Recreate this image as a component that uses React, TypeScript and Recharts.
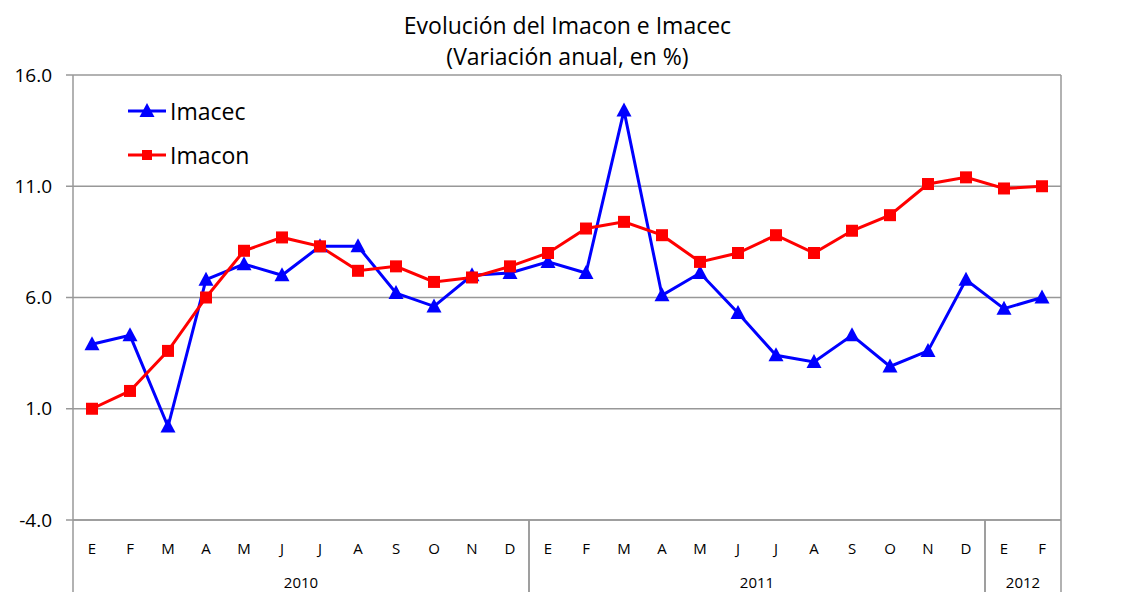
import { LineChart, Line, XAxis, YAxis, CartesianGrid } from 'recharts';

const months = ['E', 'F', 'M', 'A', 'M', 'J', 'J', 'A', 'S', 'O', 'N', 'D', 'E', 'F', 'M', 'A', 'M', 'J', 'J', 'A', 'S', 'O', 'N', 'D', 'E', 'F'];
const years = [
  '2010', '2010', '2010', '2010', '2010', '2010', '2010', '2010', '2010', '2010', '2010', '2010',
  '2011', '2011', '2011', '2011', '2011', '2011', '2011', '2011', '2011', '2011', '2011', '2011',
  '2012', '2012',
];
const imacec = [3.9, 4.3, 0.2, 6.8, 7.5, 7.0, 8.3, 8.3, 6.2, 5.6, 7.0, 7.1, 7.6, 7.1, 14.4, 6.1, 7.1, 5.3, 3.4, 3.1, 4.3, 2.9, 3.6, 6.8, 5.5, 6.0];
const imacon = [1.0, 1.8, 3.6, 6.0, 8.1, 8.7, 8.3, 7.2, 7.4, 6.7, 6.9, 7.4, 8.0, 9.1, 9.4, 8.8, 7.6, 8.0, 8.8, 8.0, 9.0, 9.7, 11.1, 11.4, 10.9, 11.0];
const yTicks = [-4, 1, 6, 11, 16];

const data = months.map((m, i) => ({ id: i, m, year: years[i], imacec: imacec[i], imacon: imacon[i] }));

const FONT = "'Open Sans', sans-serif";
const GRID = '#989898';
const BLUE = '#0000ff';
const RED = '#ff0000';

const Triangle = (props: any) => {
  const { cx, cy, index } = props;
  if (cx == null || cy == null) return <g key={`t-${index}`} />;
  return <path key={`t-${index}`} d={`M${cx},${cy - 8} L${cx + 7.5},${cy + 6} L${cx - 7.5},${cy + 6} Z`} fill={BLUE} />;
};

const Square = (props: any) => {
  const { cx, cy, index } = props;
  if (cx == null || cy == null) return <g key={`s-${index}`} />;
  return <rect key={`s-${index}`} x={cx - 6} y={cy - 6} width={12} height={12} fill={RED} />;
};

const MonthTick = (props: any) => {
  const { x, y, payload, width } = props;
  const i = payload.value as number;
  const half = payload.offset || width / (2 * months.length);
  const yr = years[i];
  const first = i === 0 || years[i - 1] !== yr;
  const last = i === years.length - 1 || years[i + 1] !== yr;
  const count = years.filter((v) => v === yr).length;
  const top = y - 8;
  return (
    <g>
      <text x={x} y={y + 26} textAnchor="middle" fontSize={15} fill="#000" fontFamily={FONT}>
        {months[i]}
      </text>
      {first && <line x1={x - half} x2={x - half} y1={top} y2={top + 80} stroke={GRID} strokeWidth={1.5} />}
      {last && <line x1={x + half} x2={x + half} y1={top} y2={top + 80} stroke={GRID} strokeWidth={1.5} />}
      {first && (
        <text x={x - half + count * half} y={y + 60} textAnchor="middle" fontSize={15} fill="#000" fontFamily={FONT}>
          {yr}
        </text>
      )}
    </g>
  );
};

export default function App() {
  return (
    <div style={{ position: 'absolute', left: 0, top: 0, width: 1126, height: 592, background: '#fff', fontFamily: FONT }}>
      <div style={{ position: 'absolute', left: 0, top: 10, width: 1135, textAlign: 'center', fontSize: 23, lineHeight: '31px', color: '#000' }}>
        Evolución del Imacon e Imacec
        <br />
        (Variación anual, en %)
      </div>
      <LineChart width={1126} height={592} data={data} margin={{ top: 75, right: 0, bottom: 0, left: 0 }}>
        <CartesianGrid vertical={false} stroke={GRID} strokeWidth={1.5} />
        <XAxis
          dataKey="id"
          type="category"
          scale="band"
          height={72}
          axisLine={{ stroke: GRID, strokeWidth: 1.5 }}
          tickLine={false}
          interval={0}
          tick={<MonthTick />}
        />
        <YAxis
          width={73}
          domain={[-4, 16]}
          ticks={yTicks}
          interval={0}
          tickFormatter={(v: number) => v.toFixed(1)}
          axisLine={{ stroke: GRID, strokeWidth: 1.5 }}
          tickLine={{ stroke: GRID, strokeWidth: 1.5 }}
          tickSize={7}
          tickMargin={14}
          tick={{ fontSize: 19, fill: '#000', fontFamily: FONT }}
        />
        <YAxis
          yAxisId="r"
          orientation="right"
          width={65}
          domain={[-4, 16]}
          ticks={yTicks}
          interval={0}
          tickFormatter={(v: number) => v.toFixed(1)}
          axisLine={{ stroke: GRID, strokeWidth: 1.5 }}
          tickLine={{ stroke: GRID, strokeWidth: 1.5 }}
          tickSize={7}
          tickMargin={15}
          tick={{ fontSize: 19, fill: '#000', fontFamily: FONT }}
        />
        <Line dataKey="imacec" stroke={BLUE} strokeWidth={3} dot={Triangle} activeDot={false} isAnimationActive={false} />
        <Line dataKey="imacon" stroke={RED} strokeWidth={3} dot={Square} activeDot={false} isAnimationActive={false} />
      </LineChart>
      <div style={{ position: 'absolute', left: 126, top: 95 }}>
        <div style={{ display: 'flex', alignItems: 'center', height: 32 }}>
          <svg width={42} height={20}>
            <line x1={2} x2={40} y1={10} y2={10} stroke={BLUE} strokeWidth={3} />
            <path d="M21,2 L28.5,16 L13.5,16 Z" fill={BLUE} />
          </svg>
          <span style={{ fontSize: 23, marginLeft: 2 }}>Imacec</span>
        </div>
        <div style={{ display: 'flex', alignItems: 'center', height: 32, marginTop: 12 }}>
          <svg width={42} height={20}>
            <line x1={2} x2={40} y1={10} y2={10} stroke={RED} strokeWidth={3} />
            <rect x={16} y={5} width={10} height={10} fill={RED} />
          </svg>
          <span style={{ fontSize: 23, marginLeft: 2 }}>Imacon</span>
        </div>
      </div>
    </div>
  );
}
